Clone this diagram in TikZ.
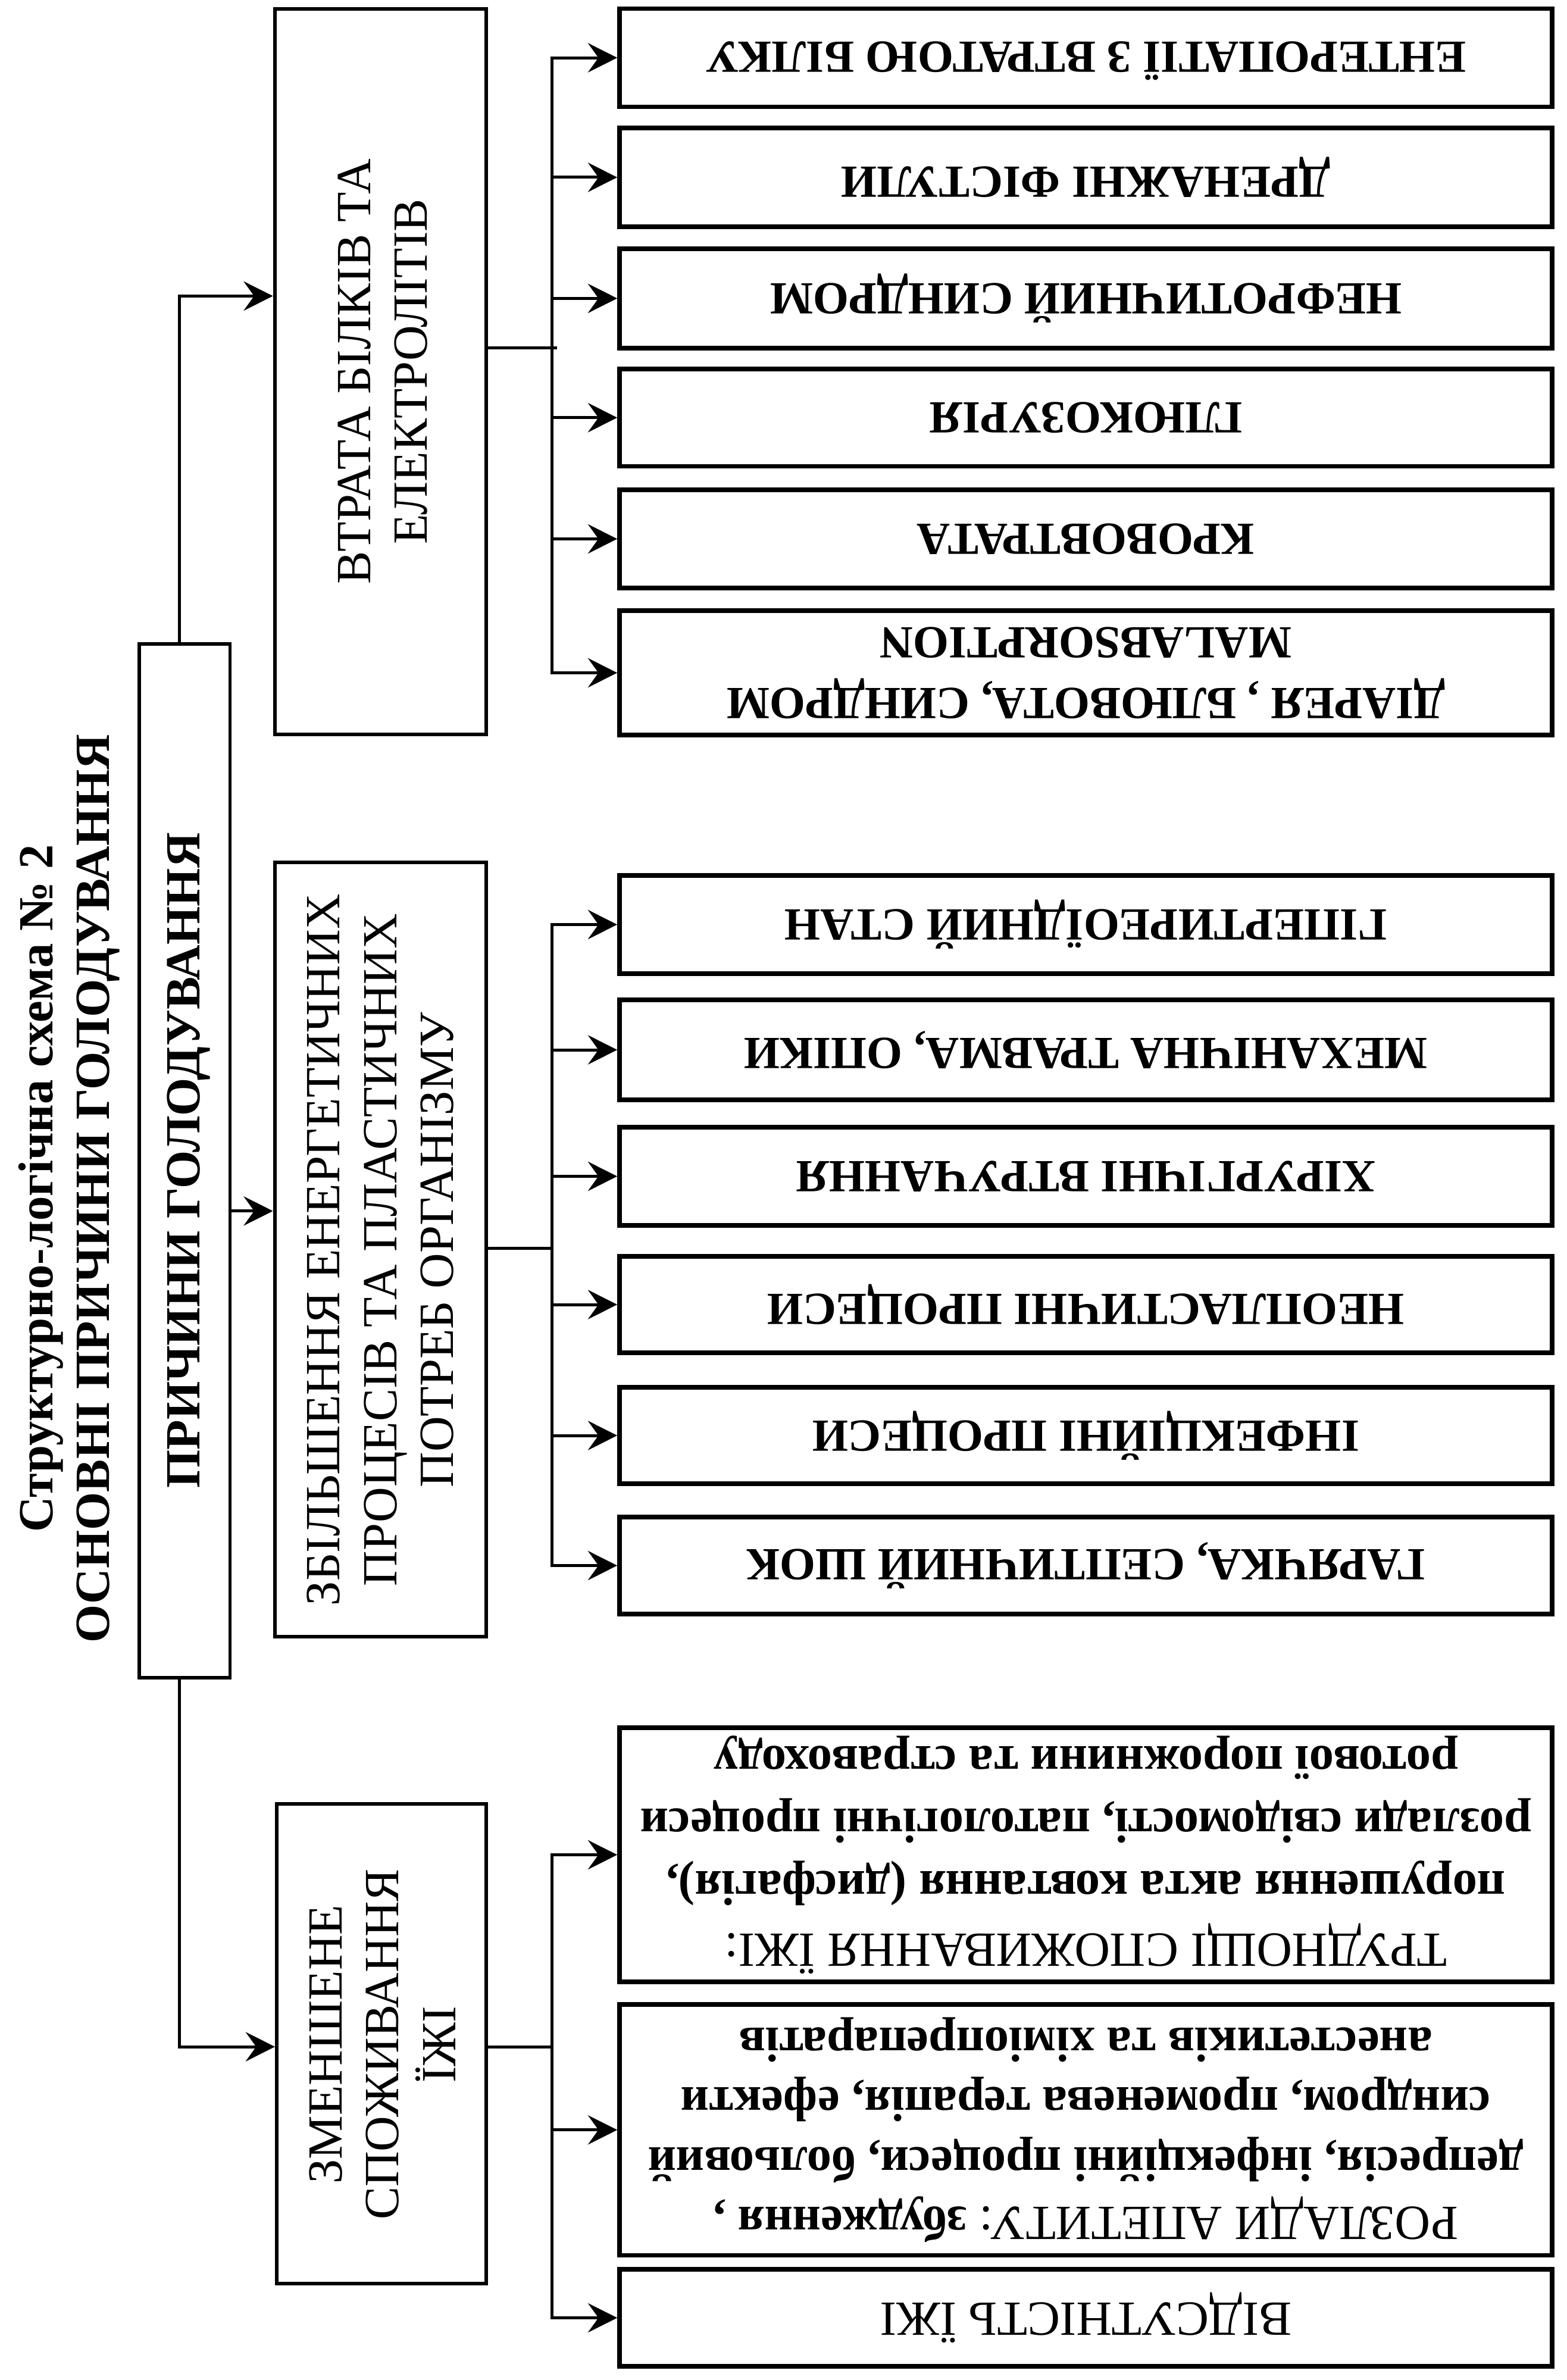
\documentclass[tikz,border=0pt]{standalone}
\usepackage{fontspec}
\setmainfont{Liberation Serif}
\usetikzlibrary{arrows.meta}
\begin{document}
\begin{tikzpicture}[
 mbox/.style={draw, line width=1.7pt, inner sep=0pt},
 rbox/.style={draw, line width=2.2pt, inner sep=0pt, minimum width=15.67cm},
 conn/.style={line width=1.42pt, line cap=rect},
 arr/.style={conn, -{Stealth[length=14pt,width=14pt,inset=5pt]}},
 vtxt/.style={rotate=90, align=center, inner sep=0pt, font=\fontsize{23.5}{27.2}\selectfont},
 rtxt/.style={rotate=180, align=center, inner sep=0pt, font=\bfseries\fontsize{22}{28.9}\selectfont},
 rtxtn/.style={rotate=180, align=center, inner sep=0pt, font=\fontsize{23.5}{29.9}\selectfont},
]
\useasboundingbox (0,0) rectangle (26.32,-39.99);
% title
\node[vtxt, font=\bfseries\fontsize{23.5}{27}\selectfont] (title) at (1.16,-19.97)
 {Структурно-логічна схема № 2\\ОСНОВНІ ПРИЧИНИ ГОЛОДУВАННЯ};
% main box
\node[mbox, minimum width=1.529cm, minimum height=17.365cm] (M) at (3.1005,-19.5025) {};
\node[vtxt, font=\bfseries\fontsize{23.5}{27}\selectfont] (Mt) at (3.17,-19.5) {ПРИЧИНИ ГОЛОДУВАННЯ};
% middle boxes
\node[mbox, minimum width=3.557cm, minimum height=12.187cm] (B1) at (6.3945,-6.2425) {};
\node[mbox, minimum width=3.557cm, minimum height=13.009cm] (B2) at (6.3945,-20.9985) {};
\node[mbox, minimum width=3.523cm, minimum height=8.06cm] (B3) at (6.4115,-34.344) {};
\node[vtxt] (B1t) at (6.43,-6.2425) {ВТРАТА БІЛКІВ ТА\\ЕЛЕКТРОЛІТІВ};
\node[vtxt] (B2t) at (6.394,-21.0) {ЗБІЛЬШЕННЯ ЕНЕРГЕТИЧНИХ\\ПРОЦЕСІВ ТА ПЛАСТИЧНИХ\\ПОТРЕБ ОРГАНІЗМУ};
\node[vtxt] (B3t) at (6.425,-34.35) {ЗМЕНШЕНЕ\\СПОЖИВАННЯ\\ЇЖІ};
% right boxes, group 1
\node[rbox, minimum height=1.649cm] (R1) at (18.245,-0.9705) {};
\node[rbox, minimum height=1.66cm] (R2) at (18.245,-2.98) {};
\node[rbox, minimum height=1.667cm] (R3) at (18.245,-5.0135) {};
\node[rbox, minimum height=1.635cm] (R4) at (18.245,-7.0175) {};
\node[rbox, minimum height=1.65cm] (R5) at (18.245,-9.055) {};
\node[rbox, minimum height=2.09cm] (R6) at (18.245,-11.305) {};
% group 2
\node[rbox, minimum height=1.65cm] (R7) at (18.245,-15.535) {};
\node[rbox, minimum height=1.68cm] (R8) at (18.245,-17.64) {};
\node[rbox, minimum height=1.65cm] (R9) at (18.245,-19.765) {};
\node[rbox, minimum height=1.62cm] (R10) at (18.245,-21.92) {};
\node[rbox, minimum height=1.62cm] (R11) at (18.245,-24.12) {};
\node[rbox, minimum height=1.63cm] (R12) at (18.245,-26.305) {};
% group 3
\node[rbox, minimum height=4.27cm] (R13) at (18.245,-31.165) {};
\node[rbox, minimum height=4.215cm] (R14) at (18.245,-35.7875) {};
\node[rbox, minimum height=1.63cm] (R15) at (18.245,-38.945) {};
% right texts
\node[rtxt] (T1) at ([yshift=-0.05cm]R1.center) {ЕНТЕРОПАТІЇ З ВТРАТОЮ БІЛКУ};
\node[rtxt] (T2) at (R2.center) {ДРЕНАЖНІ ФІСТУЛИ};
\node[rtxt] (T3) at (R3.center) {НЕФРОТИЧНИЙ СИНДРОМ};
\node[rtxt] (T4) at (R4.center) {ГЛЮКОЗУРІЯ};
\node[rtxt] (T5) at (R5.center) {КРОВОВТРАТА};
\node[rtxt] (T6) at (R6.center) {ДІАРЕЯ , БЛЮВОТА, СИНДРОМ\\MALABSORPTION};
\node[rtxt] (T7) at (R7.center) {ГІПЕРТИРЕОЇДНИЙ СТАН};
\node[rtxt] (T8) at (R8.center) {МЕХАНІЧНА ТРАВМА, ОПІКИ};
\node[rtxt] (T9) at (R9.center) {ХІРУРГІЧНІ ВТРУЧАННЯ};
\node[rtxt] (T10) at (R10.center) {НЕОПЛАСТИЧНІ ПРОЦЕСИ};
\node[rtxt] (T11) at (R11.center) {ІНФЕКЦІЙНІ ПРОЦЕСИ};
\node[rtxt] (T12) at (R12.center) {ГАРЯЧКА, СЕПТИЧНИЙ ШОК};
\node[rtxtn] (T13) at (R13.center) {ТРУДНОЩІ СПОЖИВАННЯ ЇЖІ:\\
 \textbf{порушення акта ковтання (дисфагія),}\\
 \textbf{розлади свідомості, патологічні процеси}\\
 \textbf{ротової порожнини та стравоходу}};
\node[rtxtn, font=\fontsize{23.5}{28.5}\selectfont] (T14) at (R14.center) {РОЗЛАДИ АПЕТИТУ: \textbf{збудження ,}\\
 \textbf{депресія, інфекційні процеси, больовий}\\
 \textbf{синдром, променева терапія, ефекти}\\
 \textbf{анестетиків та хіміопрепаратів}};
\node[rtxtn] (T15) at (R15.center) {ВІДСУТНІСТЬ ЇЖІ};
% connectors from main box
\coordinate (j1) at (3.016,-4.974);
\coordinate (j2) at (3.016,-20.348);
\coordinate (j3) at (3.016,-34.39);
\draw[arr] (j1 |- M.north) -- (j1) -- (j1 -| B1.west);
\draw[arr] (M.east |- j2) -- (B2.west |- j2);
\draw[arr] (j3 |- M.south) -- (j3) -- (j3 -| B3.west);
% group 1 bus
\coordinate (f1) at (9.33,-5.845);
\coordinate (bus1) at (9.274,-5.845);
\draw[conn] (B1.east |- f1) -- (f1);
\draw[arr] (bus1 |- R6.west) -- (bus1 |- R1.west) -- (R1.west);
\foreach \r in {R2,R3,R4,R5,R6} \draw[arr] (bus1 |- \r.west) -- (\r.west);
% group 2 bus
\coordinate (f2) at (9.274,-20.976);
\draw[conn] (B2.east |- f2) -- (f2);
\draw[arr] (f2 |- R12.west) -- (f2 |- R7.west) -- (R7.west);
\foreach \r in {R8,R9,R10,R11,R12} \draw[arr] (f2 |- \r.west) -- (\r.west);
% group 3 bus
\coordinate (f3) at (9.274,-34.39);
\draw[conn] (B3.east |- f3) -- (f3);
\draw[arr] (f3 |- R15.west) -- (f3 |- R13.west) -- (R13.west);
\foreach \r in {R14,R15} \draw[arr] (f3 |- \r.west) -- (\r.west);
\end{tikzpicture}
\end{document}
